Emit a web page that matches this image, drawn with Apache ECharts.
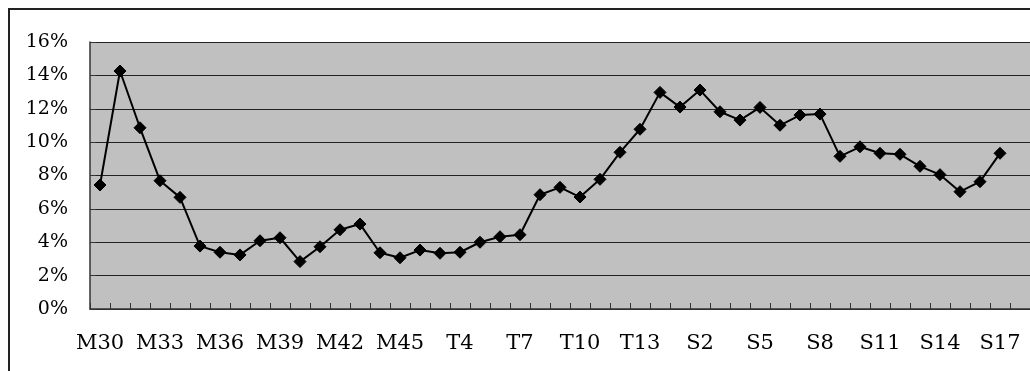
<!DOCTYPE html>
<html>
<head>
<meta charset="utf-8">
<script src="https://cdn.jsdelivr.net/npm/echarts@6/dist/echarts.min.js"></script>
<style>
html,body{margin:0;padding:0;background:#fff;}
#chart{width:1030px;height:371px;}
</style>
</head>
<body>
<div id="chart"></div>
<script>
// Categories: Meiji 30–45, Taisho 2–15, Showa 2–18 (last one empty)
const categories = [
  'M30','M31','M32','M33','M34','M35','M36','M37','M38','M39','M40','M41','M42','M43','M44','M45',
  'T2','T3','T4','T5','T6','T7','T8','T9','T10','T11','T12','T13','T14','T15',
  'S2','S3','S4','S5','S6','S7','S8','S9','S10','S11','S12','S13','S14','S15','S16','S17','S18'
];
// Values in percent
const values = [
  7.43, 14.26, 10.86, 7.69, 6.69, 3.77, 3.40, 3.24, 4.09, 4.27, 2.84, 3.73, 4.75, 5.09, 3.37, 3.07,
  3.53, 3.34, 3.40, 4.00, 4.33, 4.45, 6.85, 7.29, 6.71, 7.77, 9.39, 10.77, 12.98, 12.10,
  13.12, 11.82, 11.32, 12.08, 11.01, 11.62, 11.68, 9.15, 9.72, 9.33, 9.27, 8.55, 8.05, 7.03, 7.63, 9.33, null
];
const yTicks = { min: 0, max: 16, interval: 2 };

const chart = echarts.init(document.getElementById('chart'), null, { renderer: 'canvas' });
const FONT = '"DejaVu Serif", "Liberation Serif", serif';
chart.setOption({
  animation: false,
  backgroundColor: '#ffffff',
  graphic: [{
    type: 'rect',
    shape: { x: 9, y: 9, width: 1040, height: 380 },
    style: { fill: 'none', stroke: '#222', lineWidth: 2 },
    z: 100
  }],
  grid: {
    left: 90, top: 42, width: 943, height: 267,
    show: true, backgroundColor: '#c0c0c0', borderWidth: 0
  },
  xAxis: {
    type: 'category',
    data: categories,
    boundaryGap: true,
    axisLine: { show: true, lineStyle: { color: '#333', width: 1.5 } },
    axisTick: { show: true, inside: true, length: 6, interval: 0, lineStyle: { color: '#333', width: 1 } },
    axisLabel: {
      interval: 2, margin: 24, color: '#000',
      fontFamily: FONT, fontSize: 21
    },
    splitLine: { show: false }
  },
  yAxis: {
    type: 'value',
    min: yTicks.min, max: yTicks.max, interval: yTicks.interval,
    axisLine: { show: true, lineStyle: { color: '#333', width: 1.5 } },
    axisTick: { show: true, inside: true, length: 6, lineStyle: { color: '#333' } },
    axisLabel: {
      formatter: '{value}%', margin: 22, color: '#000',
      fontFamily: FONT, fontSize: 19
    },
    splitLine: { show: true, lineStyle: { color: '#222', width: 1 } }
  },
  series: [{
    type: 'line',
    data: values,
    symbol: 'diamond',
    symbolSize: 12,
    showAllSymbol: true,
    connectNulls: false,
    lineStyle: { color: '#000', width: 2 },
    itemStyle: { color: '#000', borderColor: '#000' }
  }]
});
</script>
</body>
</html>
